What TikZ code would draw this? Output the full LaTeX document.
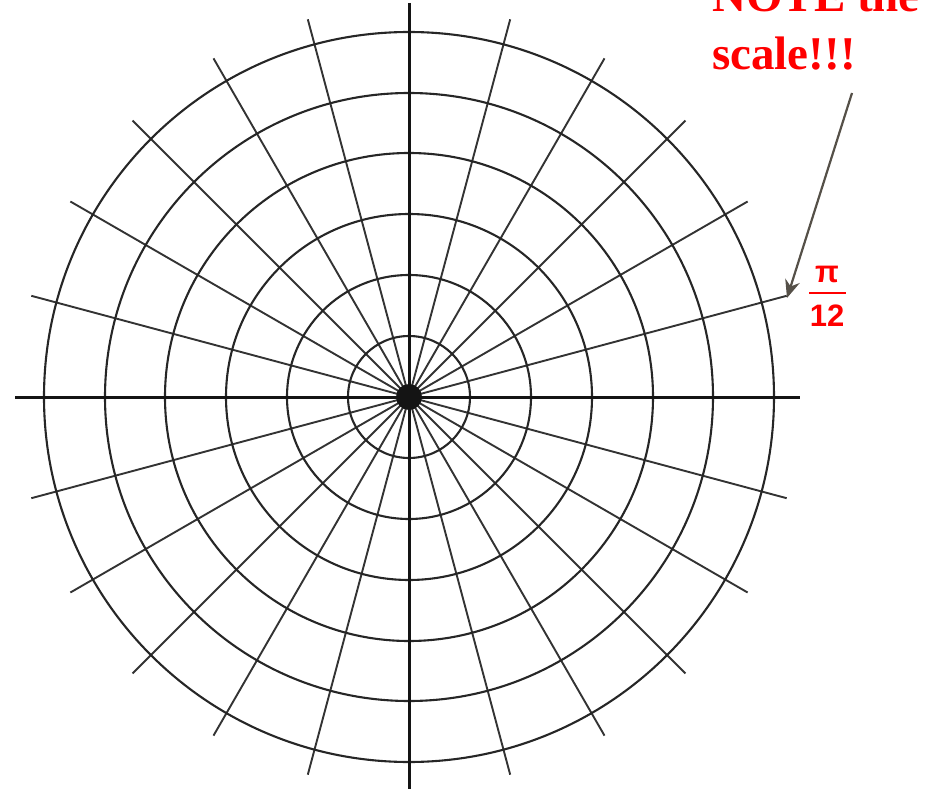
\documentclass[tikz,border=0pt]{standalone}
\usepackage{fontspec}
\setmainfont{Liberation Serif}
\newfontfamily\arialfont{Liberation Sans}
\usetikzlibrary{arrows.meta}
\definecolor{notered}{RGB}{255,0,0}
\definecolor{arrowgray}{RGB}{85,80,72}
\begin{document}
\begin{tikzpicture}[x=1pt,y=-1pt,
  ring/.style={draw=black!85,line width=2.1pt},
  spoke/.style={draw=black!80,line width=1.9pt},
  axisline/.style={draw=black!92,line width=3pt},
  notetext/.style={text=notered,font=\bfseries\fontsize{47}{52}\selectfont,inner sep=0pt,anchor=base west},
  fractext/.style={text=notered,font=\arialfont\bfseries\fontsize{31}{31}\selectfont,inner sep=0pt}]
\useasboundingbox (0,0) rectangle (927,789);
\clip (0,0) rectangle (927,789);
\coordinate (O) at (409,397);
% spokes
\foreach \a in {15,30,45,60,75,105,120,135,150,165,195,210,225,240,255,285,300,315,330,345}
  \draw[spoke] (O) -- ++(\a:391);
% rings
\foreach \r in {61,122,183,244,304,365}
  \draw[ring] (O) circle[radius=\r];
% axes
\draw[axisline] (15,397) -- (800,397);
\draw[axisline] (409,3) -- (409,789);
\fill[black!92] (O) circle[radius=13];
% annotation
\node[notetext] (note1) at (712,12) {NOTE the};
\node[notetext] (note2) at (712,70) {scale!!!};
\coordinate (arrowstart) at (852,93);
\coordinate (arrowtip) at (787,298);
\draw[arrowgray,line width=2.2pt,-{Stealth[length=18pt,width=15pt]}] (arrowstart) -- (arrowtip);
\node[fractext] (pi) at (827,274) {π};
\draw[notered,line width=2pt] (809,293) -- (846,293);
\node[fractext] (twelve) at (827,316) {12};
\end{tikzpicture}
\end{document}
